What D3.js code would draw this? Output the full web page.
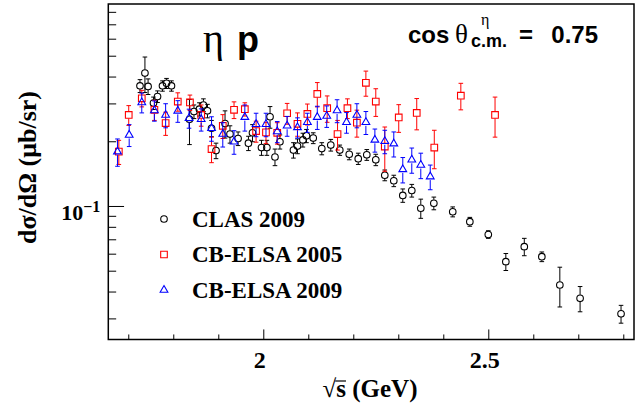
<!DOCTYPE html>
<html>
<head>
<meta charset="utf-8">
<script src="https://cdn.jsdelivr.net/npm/d3@7"></script>
<style>
    body { margin: 0; background: #fff; }
    svg { display: block; }
</style>
</head>
<body>
<div id="chart"></div>
<script>
// CLAS 2009 (open circles)
const clasEnergy = [1.726, 1.737, 1.744, 1.756, 1.765, 1.776, 1.785, 1.796, 1.836, 1.846,
    1.858, 1.867, 1.876, 1.885, 1.895, 1.915, 1.926, 1.944, 1.967, 1.976,
    1.996, 2.008, 2.015, 2.026, 2.037, 2.067, 2.076, 2.088, 2.096, 2.111,
    2.130, 2.150, 2.170, 2.191, 2.211, 2.230, 2.250, 2.270, 2.290, 2.310,
    2.330, 2.350, 2.379, 2.421, 2.459, 2.500, 2.539, 2.580, 2.619, 2.659,
    2.704, 2.795];
const clasValue = [0.362, 0.415, 0.360, 0.301, 0.323, 0.362, 0.372, 0.362, 0.253, 0.275,
    0.282, 0.295, 0.277, 0.230, 0.181, 0.242, 0.216, 0.206, 0.196, 0.219,
    0.187, 0.187, 0.260, 0.169, 0.199, 0.182, 0.190, 0.203, 0.212, 0.207,
    0.185, 0.192, 0.182, 0.174, 0.166, 0.173, 0.164, 0.139, 0.131, 0.112,
    0.118, 0.0976, 0.103, 0.094, 0.0845, 0.0737, 0.0551, 0.0647, 0.0581, 0.0429,
    0.0372, 0.0315];
const clasError = [0.025, 0.078, 0.03, 0.02, 0.02, 0.02, 0.02, 0.02, 0.06, 0.02,
    0.02, 0.02, 0.02, 0.02, 0.015, 0.035, 0.02, 0.015, 0.015, 0.02,
    0.015, 0.015, 0.03, 0.015, 0.015, 0.015, 0.015, 0.015, 0.015, 0.012,
    0.012, 0.012, 0.01, 0.01, 0.01, 0.01, 0.01, 0.008, 0.008, 0.008,
    0.008, 0.01, 0.007, 0.005, 0.004, 0.003, 0.005, 0.006, 0.003, 0.009,
    0.005, 0.003];

// CB-ELSA 2005 (open squares)
const elsa05Energy = [1.679, 1.701, 1.730, 1.758, 1.783, 1.810, 1.837, 1.862, 1.885, 1.910,
    1.935, 1.959, 1.984, 2.006, 2.031, 2.053, 2.076, 2.098, 2.120, 2.142,
    2.165, 2.187, 2.208, 2.228, 2.250, 2.270, 2.301, 2.341, 2.380, 2.439,
    2.515];
const elsa05Value = [0.179, 0.265, 0.317, 0.280, 0.243, 0.306, 0.303, 0.265, 0.184, 0.236,
    0.280, 0.282, 0.223, 0.220, 0.219, 0.270, 0.241, 0.268, 0.332, 0.285,
    0.216, 0.285, 0.244, 0.374, 0.306, 0.189, 0.258, 0.271, 0.187, 0.326,
    0.265];
const elsa05Error = [0.023, 0.028, 0.028, 0.03, 0.03, 0.03, 0.025, 0.03, 0.025, 0.03,
    0.025, 0.02, 0.025, 0.025, 0.025, 0.03, 0.03, 0.03, 0.043, 0.04,
    0.034, 0.03, 0.035, 0.05, 0.045, 0.044, 0.038, 0.045, 0.038, 0.046,
    0.056];

// CB-ELSA 2009 (open triangles)
const elsa09Energy = [1.676, 1.702, 1.730, 1.758, 1.783, 1.810, 1.835, 1.862, 1.885, 1.910,
    1.935, 1.959, 1.984, 2.006, 2.031, 2.053, 2.076, 2.098, 2.120, 2.141,
    2.164, 2.185, 2.208, 2.228, 2.248, 2.270, 2.290, 2.310, 2.330, 2.350,
    2.371];
const elsa09Value = [0.179, 0.214, 0.303, 0.278, 0.265, 0.277, 0.256, 0.253, 0.230, 0.216,
    0.199, 0.259, 0.240, 0.240, 0.222, 0.236, 0.232, 0.245, 0.259, 0.262,
    0.278, 0.245, 0.265, 0.245, 0.203, 0.200, 0.195, 0.148, 0.164, 0.155,
    0.137];
const elsa09Error = [0.026, 0.025, 0.032, 0.03, 0.034, 0.032, 0.026, 0.03, 0.03, 0.028,
    0.025, 0.036, 0.03, 0.03, 0.025, 0.025, 0.025, 0.025, 0.032, 0.03,
    0.034, 0.027, 0.034, 0.03, 0.025, 0.025, 0.026, 0.02, 0.022, 0.021,
    0.018];

const legendLabels = ['CLAS 2009', 'CB-ELSA 2005', 'CB-ELSA 2009'];

// Axis ranges and ticks
const xRange = [1.6556, 2.8238];
const yRange = [0.02393, 0.870];
const xMajorTicks = [2, 2.5];
const xMinorTicks = [1.7, 1.8, 1.9, 2.1, 2.2, 2.3, 2.4, 2.6, 2.7, 2.8];
const yMajorTicks = [0.1];
const yMinorTicks = [0.03, 0.04, 0.05, 0.06, 0.07, 0.08, 0.09, 0.2, 0.3, 0.4, 0.5, 0.6, 0.7, 0.8];

const SERIF = '"Liberation Serif", "Times New Roman", serif';
const SANS = '"Liberation Sans", Arial, Helvetica, sans-serif';

function drawChart() {
    const width = 644;
    const height = 418;
    const margin = { top: 4, right: 10, bottom: 78.5, left: 108.3 };

    const svg = d3.select('#chart')
        .append('svg')
        .attr('width', width)
        .attr('height', height);

    const x = d3.scaleLinear()
        .domain(xRange)
        .range([margin.left, width - margin.right]);

    const y = d3.scaleLog()
        .domain(yRange)
        .range([height - margin.bottom, margin.top]);

    const x0 = x.range()[0], x1 = x.range()[1];
    const yBottom = y.range()[0], yTop = y.range()[1];
    const plotW = x1 - x0, plotH = yBottom - yTop;

    // Ticks point inward like ROOT (3% of the pad, minor ones half)
    const xMinor = d3.axisBottom(x).tickValues(xMinorTicks)
        .tickSize(-plotH * 0.015).tickSizeOuter(0).tickFormat('');
    const xMajor = d3.axisBottom(x).tickValues(xMajorTicks)
        .tickSize(-plotH * 0.03).tickSizeOuter(0).tickPadding(11)
        .tickFormat(d3.format(''));

    svg.append('g')
        .attr('transform', `translate(0,${yBottom})`)
        .call(xMinor)
        .call(g => g.select('.domain').remove());

    svg.append('g')
        .attr('transform', `translate(0,${yBottom})`)
        .call(xMajor)
        .call(g => g.select('.domain').remove())
        .call(g => g.selectAll('.tick text')
            .attr('dx', -4)
            .style('font-family', SERIF)
            .style('font-weight', 'bold')
            .style('font-size', '24px')
            .attr('fill', '#000'));

    const yMinor = d3.axisLeft(y).tickValues(yMinorTicks)
        .tickSize(-plotW * 0.015).tickSizeOuter(0).tickFormat('');
    const yMajor = d3.axisLeft(y).tickValues(yMajorTicks)
        .tickSize(-plotW * 0.03).tickSizeOuter(0).tickPadding(8);

    svg.append('g')
        .attr('transform', `translate(${x0},0)`)
        .call(yMinor)
        .call(g => g.select('.domain').remove());

    svg.append('g')
        .attr('transform', `translate(${x0},0)`)
        .call(yMajor)
        .call(g => g.select('.domain').remove())
        .call(g => g.selectAll('.tick text')
            .attr('dy', '0.6em')
            .style('font-family', SERIF)
            .style('font-weight', 'bold')
            .style('font-size', '22px')
            .attr('fill', '#000')
            .each(function(d) {
                // write the label as 10^exponent
                const exp = Math.round(Math.log10(d));
                const t = d3.select(this).text('10');
                t.append('tspan')
                    .attr('dy', -8)
                    .style('font-size', '16px')
                    .text(String(exp).replace('-', '\u2212'));
            }));

    svg.selectAll('.tick line').attr('stroke', '#000').attr('stroke-width', 1);

    // Series definitions
    const series = [
        { energy: clasEnergy, value: clasValue, error: clasError, color: '#000000', shape: d3.symbolCircle, size: 34 },
        { energy: elsa05Energy, value: elsa05Value, error: elsa05Error, color: '#ff0000', shape: d3.symbolSquare, size: 44 },
        { energy: elsa09Energy, value: elsa09Value, error: elsa09Error, color: '#0000ff', shape: d3.symbolTriangle, size: 26 }
    ];

    const gap = 3.5;
    const cap = 2.3;

    series.forEach(s => {
        const pts = s.energy.map((e, i) => ({ e: e, v: s.value[i], err: s.error[i] }));
        const g = svg.append('g')
            .attr('stroke', s.color)
            .attr('fill', 'none');

        // Error bars with caps, broken around the marker
        g.selectAll('path.err')
            .data(pts)
            .join('path')
            .attr('class', 'err')
            .attr('stroke-width', 1)
            .attr('d', d => {
                const cx = x(d.e), cy = y(d.v);
                const top = y(d.v + d.err), bot = y(d.v - d.err);
                let p = '';
                if (cy - top > gap) p += `M${cx},${top}V${cy - gap}M${cx - cap},${top}H${cx + cap}`;
                if (bot - cy > gap) p += `M${cx},${cy + gap}V${bot}M${cx - cap},${bot}H${cx + cap}`;
                return p;
            });

        // Markers
        g.selectAll('path.mark')
            .data(pts)
            .join('path')
            .attr('class', 'mark')
            .attr('stroke-width', 1.1)
            .attr('transform', d => `translate(${x(d.e)},${y(d.v)})`)
            .attr('d', d3.symbol().type(s.shape).size(s.size));
    });

    // Frame
    svg.append('rect')
        .attr('x', x0)
        .attr('y', yTop)
        .attr('width', plotW)
        .attr('height', plotH)
        .attr('fill', 'none')
        .attr('stroke', '#000')
        .attr('stroke-width', 1.5);

    // Legend
    const legend = svg.append('g').attr('transform', 'translate(164,219)');
    legendLabels.forEach((label, i) => {
        const row = legend.append('g').attr('transform', `translate(0,${i * 35.5})`);
        row.append('path')
            .attr('d', d3.symbol().type(series[i].shape).size(series[i].size))
            .attr('fill', 'none')
            .attr('stroke', series[i].color)
            .attr('stroke-width', 1.1);
        row.append('text')
            .attr('x', 28)
            .attr('y', 7.7)
            .style('font-family', SERIF)
            .style('font-weight', 'bold')
            .style('font-size', '23px')
            .text(label);
    });

    // Reaction label
    svg.append('text')
        .attr('x', 203)
        .attr('y', 52)
        .style('font-family', SERIF)
        .style('font-size', '40px')
        .text('\u03b7');
    svg.append('text')
        .attr('x', 237)
        .attr('y', 52)
        .style('font-family', SANS)
        .style('font-weight', 'bold')
        .style('font-size', '36px')
        .text('p');

    // cos theta label
    svg.append('text')
        .attr('x', 408)
        .attr('y', 43)
        .style('font-family', SANS)
        .style('font-weight', 'bold')
        .style('font-size', '24px')
        .text('cos');
    svg.append('text')
        .attr('x', 455)
        .attr('y', 43)
        .style('font-family', SERIF)
        .style('font-size', '27px')
        .text('\u03b8');
    svg.append('text')
        .attr('x', 481)
        .attr('y', 25)
        .style('font-family', SERIF)
        .style('font-size', '16px')
        .text('\u03b7');
    svg.append('text')
        .attr('x', 471)
        .attr('y', 47)
        .style('font-family', SANS)
        .style('font-weight', 'bold')
        .style('font-size', '18px')
        .text('c.m.');
    svg.append('text')
        .attr('x', 519)
        .attr('y', 43)
        .style('font-family', SANS)
        .style('font-weight', 'bold')
        .style('font-size', '24px')
        .text('=');
    svg.append('text')
        .attr('x', 598)
        .attr('y', 43)
        .attr('text-anchor', 'end')
        .style('font-family', SANS)
        .style('font-weight', 'bold')
        .style('font-size', '24px')
        .text('0.75');

    // Y axis title
    svg.append('text')
        .attr('transform', 'translate(36,167.5) rotate(-90)')
        .attr('text-anchor', 'middle')
        .style('font-family', SERIF)
        .style('font-weight', 'bold')
        .style('font-size', '26px')
        .text('d\u03c3/d\u03a9 (\u03bcb/sr)');

    // X axis title with overline on s
    const xTitle = svg.append('text')
        .attr('x', 370)
        .attr('y', 397)
        .attr('text-anchor', 'middle')
        .style('font-family', SERIF)
        .style('font-weight', 'bold')
        .style('font-size', '25px')
        .text('\u221as (GeV)');
    const ext = xTitle.node().getExtentOfChar(1);
    svg.append('line')
        .attr('x1', ext.x - 1)
        .attr('x2', ext.x + ext.width)
        .attr('y1', 381)
        .attr('y2', 381)
        .attr('stroke', '#000')
        .attr('stroke-width', 1.2);
}

drawChart();
</script>
</body>
</html>
